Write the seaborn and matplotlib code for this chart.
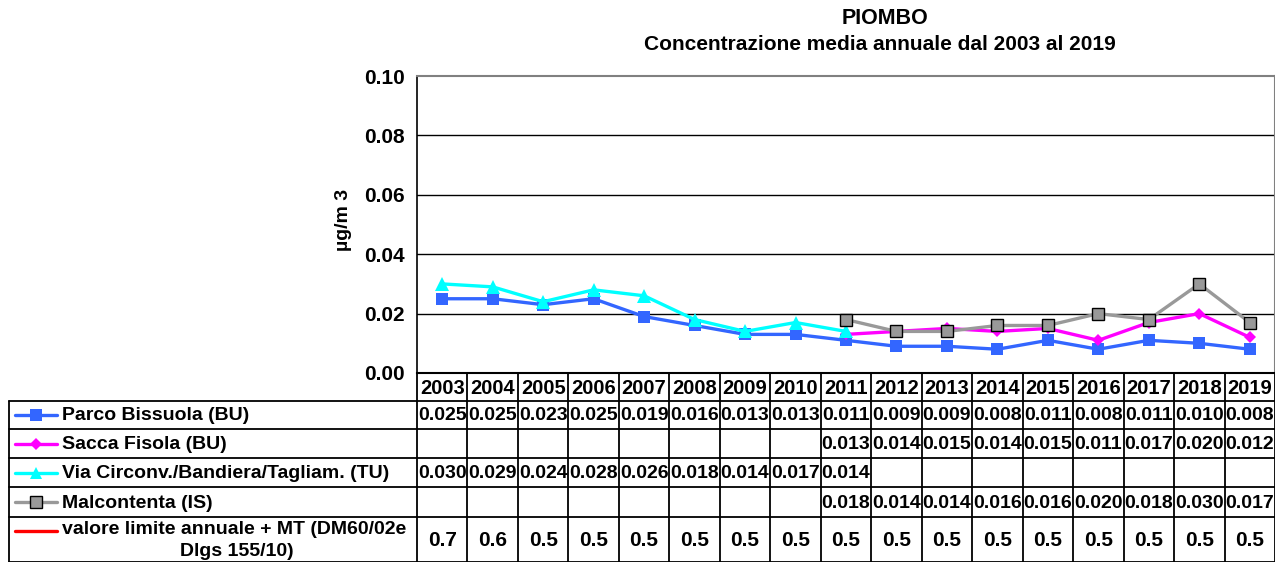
import numpy as np
import pandas as pd
import matplotlib
matplotlib.use("Agg")
import matplotlib.pyplot as plt
import seaborn as sns

years = [2003, 2004, 2005, 2006, 2007, 2008, 2009, 2010, 2011, 2012, 2013, 2014, 2015, 2016, 2017, 2018, 2019]
nan = np.nan
parco_bissuola = [0.025, 0.025, 0.023, 0.025, 0.019, 0.016, 0.013, 0.013, 0.011, 0.009, 0.009, 0.008, 0.011, 0.008, 0.011, 0.010, 0.008]
sacca_fisola = [nan, nan, nan, nan, nan, nan, nan, nan, 0.013, 0.014, 0.015, 0.014, 0.015, 0.011, 0.017, 0.020, 0.012]
via_circonv = [0.030, 0.029, 0.024, 0.028, 0.026, 0.018, 0.014, 0.017, 0.014, nan, nan, nan, nan, nan, nan, nan, nan]
malcontenta = [nan, nan, nan, nan, nan, nan, nan, nan, 0.018, 0.014, 0.014, 0.016, 0.016, 0.020, 0.018, 0.030, 0.017]
valore_limite = [0.7, 0.6, 0.5, 0.5, 0.5, 0.5, 0.5, 0.5, 0.5, 0.5, 0.5, 0.5, 0.5, 0.5, 0.5, 0.5, 0.5]

series_names = ["Parco Bissuola (BU)", "Sacca Fisola (BU)", "Via Circonv./Bandiera/Tagliam. (TU)",
                "Malcontenta (IS)", "valore limite annuale + MT (DM60/02e\nDlgs 155/10)"]
series_values = [parco_bissuola, sacca_fisola, via_circonv, malcontenta, valore_limite]
y_ticks = [0.00, 0.02, 0.04, 0.06, 0.08, 0.10]

title = "PIOMBO"
subtitle = "Concentrazione media annuale dal 2003 al 2019"
ylabel = "\u00b5g/m 3"

sns.set_theme(style="white")
plt.rcParams['font.family'] = ['Liberation Sans', 'DejaVu Sans']
plt.rcParams['font.weight'] = 'bold'
plt.rcParams['text.color'] = 'black'
plt.rcParams['axes.labelcolor'] = 'black'
plt.rcParams['xtick.color'] = 'black'
plt.rcParams['ytick.color'] = 'black'

styles = [
    dict(color="#3366FF", marker="s", markersize=9, mfc="#3366FF", mec="#3366FF", decimals=3),
    dict(color="#FF00FF", marker="D", markersize=6.5, mfc="#FF00FF", mec="#FF00FF", decimals=3),
    dict(color="#00FFFF", marker="^", markersize=10, mfc="#00FFFF", mec="#00FFFF", decimals=3),
    dict(color="#999999", marker="s", markersize=9, mfc="#999999", mec="#000000", decimals=3),
    dict(color="#FF0000", marker=None, markersize=0, mfc="#FF0000", mec="#FF0000", decimals=1),
]

W, H = 1275, 562
fig = plt.figure(figsize=(W / 100, H / 100), dpi=100)

# pixel-coordinate helper axes for the data table / titles
tab = fig.add_axes([0, 0, 1, 1], zorder=0)
tab.set_xlim(0, W)
tab.set_ylim(H, 0)
tab.axis("off")

ax_l, ax_r, ax_t, ax_b = 417, 1275, 76, 373
ax = fig.add_axes([ax_l / W, (H - ax_b) / H, (ax_r - ax_l) / W, (ax_b - ax_t) / H], zorder=2)
ax.patch.set_alpha(0)

x = np.arange(len(years))
for name, vals, st in zip(series_names, series_values, styles):
    df = pd.DataFrame({"x": x, "y": vals}).dropna()
    sns.lineplot(data=df, x="x", y="y", ax=ax, color=st["color"], linewidth=2.4,
                 marker=st["marker"], markersize=st["markersize"],
                 markerfacecolor=st["mfc"], markeredgecolor=st["mec"],
                 markeredgewidth=1.0 if st["mec"] == "#000000" else 0, legend=False, zorder=3)

ax.set_xlim(-0.5, len(years) - 0.5)
ax.set_ylim(0, 0.10)
ax.set_yticks(y_ticks)
ax.set_yticklabels([f"{t:.2f}" for t in y_ticks], fontsize=15, fontweight="bold")
ax.set_xticks([])
ax.set_xlabel("")
ax.set_ylabel("")
for t in y_ticks[1:-1]:
    ax.axhline(t, color="black", linewidth=1.0, zorder=1)
ax.tick_params(axis="y", direction="out", length=5, width=1, color="black", pad=4)
ax.spines["left"].set_color("black")
ax.spines["left"].set_linewidth(1.2)
ax.spines["bottom"].set_color("black")
ax.spines["bottom"].set_linewidth(1.5)
ax.spines["top"].set_color("#808080")
ax.spines["top"].set_linewidth(1.5)
ax.spines["right"].set_color("#808080")
ax.spines["right"].set_linewidth(1.5)

# titles
fig.text(885 / W, 1 - 18 / H, title, ha="center", va="center", fontsize=15.5, fontweight="bold")
fig.text(880 / W, 1 - 44 / H, subtitle, ha="center", va="center", fontsize=15, fontweight="bold")
fig.text(343 / W, 1 - 220 / H, ylabel, ha="center", va="center", rotation=90, fontsize=14, fontweight="bold")

# data table
n = len(years)
col_w = (ax_r - ax_l) / n
left_edge = 9
row_edges = [401, 429, 458, 487, 517, 562]
lc = "black"
lw = 1.3
for i in range(n + 1):
    xx = ax_l + i * col_w
    tab.plot([xx, xx], [ax_b, H], color=lc, lw=lw)
for yy in row_edges:
    tab.plot([left_edge, ax_r], [yy, yy], color=lc, lw=lw)
tab.plot([left_edge, left_edge], [row_edges[0], H], color=lc, lw=lw)

# header
for i, yr in enumerate(years):
    tab.text(ax_l + (i + 0.5) * col_w, (ax_b + row_edges[0]) / 2 + 1, str(yr),
             ha="center", va="center", fontsize=14.5, fontweight="bold")

# rows
for r, (name, vals, st) in enumerate(zip(series_names, series_values, styles)):
    y0, y1 = row_edges[r], row_edges[r + 1]
    yc = (y0 + y1) / 2
    key_y = yc if r < 4 else y0 + 14
    tab.plot([15, 57], [key_y, key_y], color=st["color"], lw=2.4)
    if st["marker"]:
        tab.plot([36], [key_y], marker=st["marker"], markersize=st["markersize"] * 0.9,
                 mfc=st["mfc"], mec=st["mec"], mew=1.0 if st["mec"] == "#000000" else 0, lw=0)
    if r < 4:
        tab.text(62, yc + 1, name, ha="left", va="center", fontsize=14, fontweight="bold")
    else:
        line1, line2 = name.split("\n")
        tab.text(62, y0 + 13, line1, ha="left", va="center", fontsize=14, fontweight="bold")
        tab.text(237, y0 + 35, line2, ha="center", va="center", fontsize=14, fontweight="bold")
    for i, v in enumerate(vals):
        if np.isnan(v):
            continue
        tab.text(ax_l + (i + 0.5) * col_w, yc + 1, f"{v:.{st['decimals']}f}",
                 ha="center", va="center", fontsize=14 if r < 4 else 15, fontweight="bold")

fig.savefig("out.png", dpi=100)
